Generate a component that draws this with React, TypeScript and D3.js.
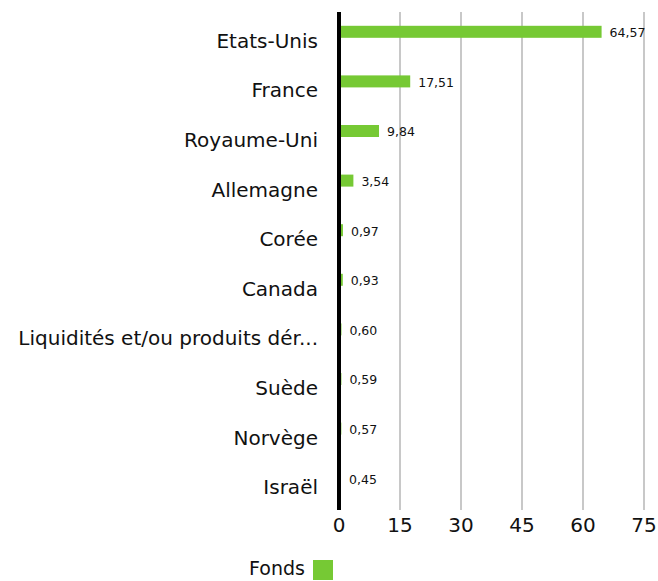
import React, { useEffect, useRef } from 'react';
import * as d3 from 'd3';

const categories = [
  'Etats-Unis',
  'France',
  'Royaume-Uni',
  'Allemagne',
  'Corée',
  'Canada',
  'Liquidités et/ou produits dér...',
  'Suède',
  'Norvège',
  'Israël',
];
const values = [64.57, 17.51, 9.84, 3.54, 0.97, 0.93, 0.6, 0.59, 0.57, 0.45];
const ticks = [0, 15, 30, 45, 60, 75];
const seriesName = 'Fonds';

const W = 658;
const H = 581;
const FONT = '"DejaVu Sans", sans-serif';

const App = () => {
  const ref = useRef<SVGSVGElement>(null);

  useEffect(() => {
    const svg = d3.select(ref.current);
    svg.selectAll('*').remove();

    const left = 339;
    const top = 12;
    const plotBottom = 510;

    const x = d3.scaleLinear().domain([0, 75]).range([left, left + 305]);
    const y = d3.scaleBand<string>()
      .domain(categories)
      .range([top, top + 49.6 * categories.length]);

    const barH = 12;

    // grid lines
    svg.append('g')
      .selectAll('line')
      .data(ticks.slice(1))
      .enter()
      .append('line')
      .attr('x1', d => x(d))
      .attr('x2', d => x(d))
      .attr('y1', top)
      .attr('y2', plotBottom)
      .attr('stroke', '#c8c8c8')
      .attr('stroke-width', 2);

    // tick labels
    svg.append('g')
      .selectAll('text')
      .data(ticks)
      .enter()
      .append('text')
      .attr('x', d => x(d))
      .attr('y', 532)
      .attr('text-anchor', 'middle')
      .style('font-family', FONT)
      .style('font-size', '20px')
      .style('fill', '#111')
      .text(d => d);

    const rows = categories.map((c, i) => ({ c, v: values[i] }));

    // bars
    svg.append('g')
      .selectAll('rect')
      .data(rows)
      .enter()
      .append('rect')
      .attr('x', x(0))
      .attr('y', d => y(d.c)! + y.bandwidth() / 2 - barH / 2 - 5)
      .attr('width', d => x(d.v) - x(0))
      .attr('height', barH)
      .attr('fill', '#76c934');

    // value labels
    svg.append('g')
      .selectAll('text')
      .data(rows)
      .enter()
      .append('text')
      .attr('x', d => Math.max(x(d.v), x(0) + 2) + 8)
      .attr('y', d => y(d.c)! + y.bandwidth() / 2 - 4)
      .attr('dy', '0.35em')
      .style('font-family', FONT)
      .style('font-size', '12.5px')
      .style('fill', '#111')
      .text(d => d.v.toFixed(2).replace('.', ','));

    // category labels
    svg.append('g')
      .selectAll('text')
      .data(rows)
      .enter()
      .append('text')
      .attr('x', 318)
      .attr('y', d => y(d.c)! + y.bandwidth() / 2 + 4)
      .attr('dy', '0.35em')
      .attr('text-anchor', 'end')
      .style('font-family', FONT)
      .style('font-size', '20px')
      .style('fill', '#111')
      .text(d => d.c);

    // axis line
    svg.append('line')
      .attr('x1', x(0))
      .attr('x2', x(0))
      .attr('y1', top)
      .attr('y2', plotBottom)
      .attr('stroke', '#000')
      .attr('stroke-width', 4);

    // legend
    svg.append('text')
      .attr('x', 305)
      .attr('y', 575)
      .attr('text-anchor', 'end')
      .style('font-family', FONT)
      .style('font-size', '19px')
      .style('fill', '#111')
      .text(seriesName);
    svg.append('rect')
      .attr('x', 313)
      .attr('y', 560)
      .attr('width', 20)
      .attr('height', 20)
      .attr('fill', '#76c934');
  }, []);

  return (
    <svg
      ref={ref}
      width={W}
      height={H}
      style={{ position: 'absolute', left: 0, top: 0, background: '#fff' }}
    />
  );
};

export default App;
